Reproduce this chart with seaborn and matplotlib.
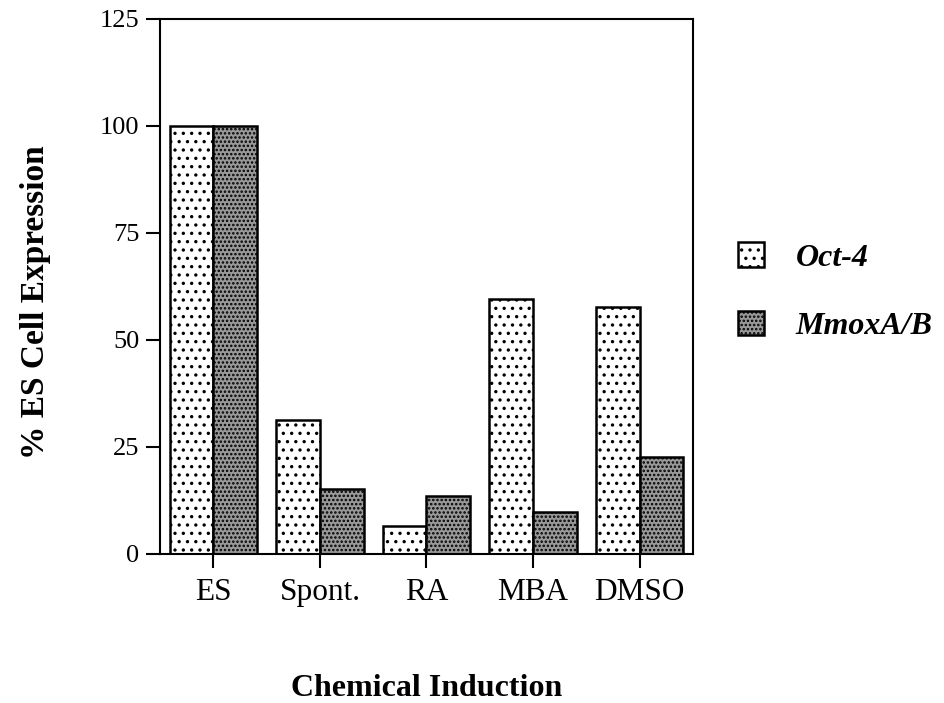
import matplotlib
matplotlib.use("Agg")
import matplotlib.pyplot as plt
import seaborn as sns
import pandas as pd
from matplotlib.patches import Patch

categories = ["ES", "Spont.", "RA", "MBA", "DMSO"]
oct4 = [100, 31.4, 6.5, 59.5, 57.6]
mmox = [100, 15.2, 13.6, 9.8, 22.7]
series_names = ["Oct-4", "MmoxA/B"]
yticks = [0, 25, 50, 75, 100, 125]

df = pd.DataFrame({
    "cat": categories * 2,
    "val": oct4 + mmox,
    "series": [series_names[0]] * 5 + [series_names[1]] * 5,
})

sns.set_style("ticks")
plt.rcParams["font.family"] = ["Liberation Serif", "DejaVu Serif"]
plt.rcParams["hatch.linewidth"] = 1.2
plt.rcParams["text.color"] = "black"
plt.rcParams["axes.labelcolor"] = "black"
plt.rcParams["xtick.color"] = "black"
plt.rcParams["ytick.color"] = "black"
plt.rcParams["axes.edgecolor"] = "black"

fig = plt.figure(figsize=(9.44, 7.03), dpi=100)
ax = fig.add_axes([0.1695, 0.212, 0.5646, 0.761])

sns.barplot(data=df, x="cat", y="val", hue="series", order=categories,
            hue_order=series_names, width=0.82, ax=ax, legend=False,
            edgecolor="black", linewidth=1.8)

styles = [dict(fc="white", hatch=".."), dict(fc="#999999", hatch="....")]
for cont, st in zip(ax.containers, styles):
    for p in cont.patches:
        p.set_facecolor(st["fc"])
        p.set_hatch(st["hatch"])
        p.set_edgecolor("black")

ax.set_xlim(-0.5, 4.5)
ax.set_ylim(0, 125)
ax.set_yticks(yticks)
ax.set_yticklabels([str(t) for t in yticks], fontsize=19)
ax.set_xticks(range(len(categories)))
ax.set_xticklabels(categories, fontsize=22.5)
ax.tick_params(axis="both", direction="out", length=10, width=1.5, pad=5)
ax.tick_params(axis="x", pad=7)
for s in ax.spines.values():
    s.set_linewidth(1.5)
    s.set_visible(True)

ax.set_xlabel("Chemical Induction", fontsize=23, fontweight="bold")
ax.xaxis.set_label_coords(0.5, -0.224)
ax.xaxis.label.set_va("top")
ax.set_ylabel("% ES Cell Expression", fontsize=24, fontweight="bold")
ax.yaxis.set_label_coords(-0.205, 0.47)

handles = [Patch(facecolor=styles[0]["fc"], hatch=styles[0]["hatch"], edgecolor="black", linewidth=1.8),
           Patch(facecolor=styles[1]["fc"], hatch=styles[1]["hatch"], edgecolor="black", linewidth=1.8)]
leg = fig.legend(handles, series_names, loc="center left", bbox_to_anchor=(0.782, 0.585),
                 frameon=False, prop={"size": 23, "weight": "bold", "style": "italic"},
                 handlelength=0.8, handleheight=0.8, labelspacing=1.2, handletextpad=1.0,
                 borderpad=0, borderaxespad=0)

fig.savefig("out.png", dpi=100)
